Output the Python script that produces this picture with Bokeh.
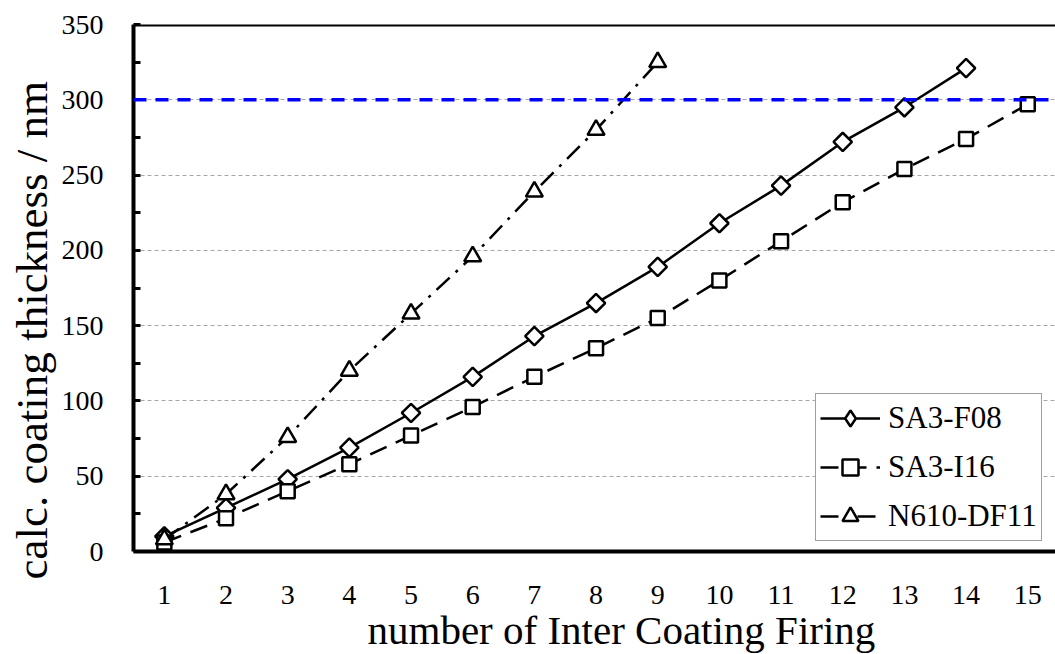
import math
from bokeh.plotting import figure
from bokeh.models import Range1d, FixedTicker, Span, Legend, LegendItem, Title
from bokeh.embed import file_html
from bokeh.resources import INLINE

# ---- data ----
firings = [1, 2, 3, 4, 5, 6, 7, 8, 9, 10, 11, 12, 13, 14, 15]
sa3_f08_x = [1, 2, 3, 4, 5, 6, 7, 8, 9, 10, 11, 12, 13, 14]
sa3_f08 = [10, 29, 48, 69, 92, 116, 143, 165, 189, 218, 243, 272, 295, 321]
sa3_i16_x = [1, 2, 3, 4, 5, 6, 7, 8, 9, 10, 11, 12, 13, 14, 15]
sa3_i16 = [6, 22, 40, 58, 77, 96, 116, 135, 155, 180, 206, 232, 254, 274, 297]
n610_x = [1, 2, 3, 4, 5, 6, 7, 8, 9]
n610 = [8, 38, 76, 120, 158, 196, 239, 280, 325]
target_thickness = 300
y_ticks = [0, 50, 100, 150, 200, 250, 300, 350]
y_minor = [25, 75, 125, 175, 225, 275, 325]

FONT = "Liberation Serif"

p = figure(width=1055, height=654, output_backend="svg", toolbar_location=None,
           x_range=Range1d(0.5, 15.45), y_range=Range1d(0, 350),
           min_border_left=133, min_border_right=0, min_border_top=24, min_border_bottom=102)
p.outline_line_color = None
p.background_fill_color = "white"
p.border_fill_color = "white"

# grid
p.xgrid.grid_line_color = None
p.ygrid.grid_line_color = "#a6a6a6"
p.ygrid.grid_line_width = 1
p.ygrid.grid_line_dash = "4 3"

# axes
p.xaxis.ticker = FixedTicker(ticks=firings)
p.yaxis.ticker = FixedTicker(ticks=y_ticks, minor_ticks=y_minor)
for ax in (p.xaxis[0], p.yaxis[0]):
    ax.axis_line_width = 4
    ax.axis_line_color = "black"
    ax.major_label_text_font = FONT
    ax.major_label_text_font_size = "28px"
    ax.major_label_text_color = "black"
p.xaxis.major_tick_line_color = None
p.xaxis.minor_tick_line_color = None
p.xaxis.major_label_standoff = 28

p.yaxis.major_tick_in = 7
p.yaxis.major_tick_out = 0
p.yaxis.minor_tick_in = 7
p.yaxis.minor_tick_out = 0
p.yaxis.major_tick_line_width = 3
p.yaxis.minor_tick_line_width = 3
p.yaxis.major_label_standoff = 30

# axis titles as side titles, so they can sit off-centre as in the reference
ytitle = Title(text="calc. coating thickness / nm", align="left", offset=-28,
               text_font=FONT, text_font_size="45px", text_font_style="normal",
               text_color="black", standoff=4)
p.add_layout(ytitle, "left")
xtitle = Title(text="number of Inter Coating Firing", align="left", offset=234,
               vertical_align="top",
               text_font=FONT, text_font_size="41px", text_font_style="normal",
               text_color="black", standoff=0)
p.add_layout(xtitle, "below")

# top border
p.add_layout(Span(location=350, dimension="width", line_color="black", line_width=4))
# target line
p.add_layout(Span(location=target_thickness, dimension="width", line_color="#0000ff",
                  line_width=3.5, line_dash="13 9"))

# lines
l1 = p.line(sa3_f08_x, sa3_f08, line_color="black", line_width=2.5)
l2 = p.line(sa3_i16_x, sa3_i16, line_color="black", line_width=2.5, line_dash="18 10")
l3 = p.line(n610_x, n610, line_color="black", line_width=2.5, line_dash="18 8 3 8")

# markers
m1 = p.scatter(sa3_f08_x, sa3_f08, marker="square", angle=math.pi / 4, size=13,
               line_color="black", line_width=2.5, fill_color="white")
m1_leg = p.scatter(sa3_f08_x, sa3_f08, marker="diamond", size=18, visible=False,
                   line_color="black", line_width=2.5, fill_color="white")
m2 = p.scatter(sa3_i16_x, sa3_i16, marker="square", size=14,
               line_color="black", line_width=2.5, fill_color="white")
m3 = p.scatter(n610_x, n610, marker="triangle", size=17,
               line_color="black", line_width=2.5, fill_color="white")

legend = Legend(items=[
    LegendItem(label="SA3-F08", renderers=[l1, m1_leg]),
    LegendItem(label="SA3-I16", renderers=[l2, m2]),
    LegendItem(label="N610-DF11", renderers=[l3, m3]),
], location=(682, 10))
legend.label_text_font = FONT
legend.label_text_font_size = "31px"
legend.label_text_color = "black"
legend.glyph_width = 60
legend.glyph_height = 40
legend.label_standoff = 8
legend.spacing = 9
legend.padding = 4
legend.margin = 0
legend.border_line_color = "#404040"
legend.border_line_width = 1.5
legend.background_fill_color = "white"
legend.background_fill_alpha = 1
p.add_layout(legend)

open("out.html", "w").write(file_html(p, INLINE))
